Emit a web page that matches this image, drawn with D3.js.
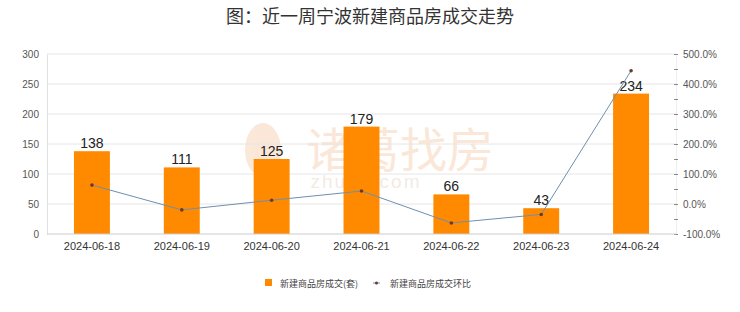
<!DOCTYPE html>
<html>
<head>
<meta charset="utf-8">
<script src="https://cdn.jsdelivr.net/npm/d3@7"></script>
<style>
  html, body { margin: 0; padding: 0; background: #fff; }
  svg { display: block; font-family: "Liberation Sans", Arial, sans-serif; }
  .cjk { font-family: "Noto Sans CJK SC", sans-serif; }
</style>
</head>
<body>
<svg id="chart" width="740" height="312"></svg>
<script>
const dates = ["2024-06-18", "2024-06-19", "2024-06-20", "2024-06-21", "2024-06-22", "2024-06-23", "2024-06-24"];
const deals = [138, 111, 125, 179, 66, 43, 234];
const momPct = [63, -19.6, 12.6, 43.2, -63.1, -34.8, 444.2];
const leftTicks = [0, 50, 100, 150, 200, 250, 300];
const rightTicks = [-100, 0, 100, 200, 300, 400, 500];

const margin = { top: 54, left: 47 };
const plotW = 676 - margin.left;
const plotH = 234 - margin.top;

const svg = d3.select("#chart");

// title
svg.append("text")
  .attr("class", "cjk")
  .attr("x", 370)
  .attr("y", 23)
  .attr("text-anchor", "middle")
  .attr("font-size", 18)
  .attr("fill", "#333")
  .text("图：近一周宁波新建商品房成交走势");

// faint watermark behind the plot
const wm = svg.append("g").attr("opacity", 0.33);
wm.append("ellipse")
  .attr("cx", 263).attr("cy", 150).attr("rx", 18).attr("ry", 27)
  .attr("fill", "#f0b98a");
wm.append("text")
  .attr("class", "cjk")
  .attr("x", 400)
  .attr("y", 167)
  .attr("text-anchor", "middle")
  .attr("font-size", 47)
  .attr("fill", "#f0b98a")
  .text("诸葛找房");
wm.append("text")
  .attr("x", 366)
  .attr("y", 188)
  .attr("text-anchor", "middle")
  .attr("font-size", 19)
  .attr("letter-spacing", 2)
  .attr("fill", "#d9c2b0")
  .text("zhuge.com");

const g = svg.append("g").attr("transform", `translate(${margin.left},${margin.top})`);

const x = d3.scaleBand().domain(dates).range([0, plotW]).paddingInner(0.6).paddingOuter(0.3);
const yL = d3.scaleLinear().domain([0, 300]).range([plotH, 0]);
const yR = d3.scaleLinear().domain([-100, 500]).range([plotH, 0]);

// gridlines
g.append("g")
  .selectAll("line")
  .data(leftTicks.filter((d) => d > 0))
  .join("line")
  .attr("x1", 0)
  .attr("x2", plotW)
  .attr("y1", (d) => yL(d))
  .attr("y2", (d) => yL(d))
  .attr("stroke", "#e6e6e6");

// left axis
const leftAxis = g.append("g")
  .call(d3.axisLeft(yL).tickValues(leftTicks).tickSize(0).tickPadding(8));
leftAxis.select(".domain").attr("stroke", "#e0e0e0");
leftAxis.selectAll("text").attr("font-size", 10).attr("fill", "#555");

// right axis, small marks every 50%
const rightAxis = g.append("g")
  .attr("transform", `translate(${plotW},0)`)
  .call(d3.axisRight(yR).tickValues(d3.range(-100, 501, 50)).tickSize(0).tickFormat(""));
rightAxis.select(".domain").attr("stroke", "#eee");
rightAxis.selectAll(".tick line").remove();
rightAxis.selectAll(".tick")
  .append("line")
  .attr("x1", -2).attr("x2", 2)
  .attr("stroke", "#888");
g.append("g")
  .attr("transform", `translate(${plotW},0)`)
  .selectAll("text")
  .data(rightTicks)
  .join("text")
  .attr("x", 7)
  .attr("y", (d) => yR(d))
  .attr("dy", "0.35em")
  .attr("font-size", 10)
  .attr("fill", "#555")
  .text((d) => d.toFixed(1) + "%");

// bars
g.append("g")
  .selectAll("rect")
  .data(deals)
  .join("rect")
  .attr("x", (d, i) => x(dates[i]))
  .attr("y", (d) => yL(d))
  .attr("width", x.bandwidth())
  .attr("height", (d) => plotH - yL(d))
  .attr("fill", "#ff8a00");

// baseline
g.append("line")
  .attr("x1", 0).attr("x2", plotW)
  .attr("y1", plotH).attr("y2", plotH)
  .attr("stroke", "#ccc");

// value labels
g.append("g")
  .selectAll("text")
  .data(deals)
  .join("text")
  .attr("x", (d, i) => x(dates[i]) + x.bandwidth() / 2)
  .attr("y", (d) => yL(d) - 3)
  .attr("text-anchor", "middle")
  .attr("font-size", 14)
  .attr("fill", "#222")
  .text((d) => d);

// x labels
g.append("g")
  .selectAll("text")
  .data(dates)
  .join("text")
  .attr("x", (d) => x(d) + x.bandwidth() / 2)
  .attr("y", plotH + 16)
  .attr("text-anchor", "middle")
  .attr("font-size", 11)
  .attr("fill", "#333")
  .text((d) => d);

// month-on-month line
const line = d3.line()
  .x((d, i) => x(dates[i]) + x.bandwidth() / 2)
  .y((d) => yR(d));
g.append("path")
  .datum(momPct)
  .attr("d", line)
  .attr("fill", "none")
  .attr("stroke", "#6f8fb0")
  .attr("stroke-width", 1);
g.append("g")
  .selectAll("circle")
  .data(momPct)
  .join("circle")
  .attr("cx", (d, i) => x(dates[i]) + x.bandwidth() / 2)
  .attr("cy", (d) => yR(d))
  .attr("r", 1.8)
  .attr("fill", "#6b3a2a");

// legend
const lg = svg.append("g").attr("transform", "translate(0,283)");
lg.append("rect").attr("x", 265).attr("y", -4).attr("width", 7).attr("height", 7).attr("fill", "#ff8a00");
lg.append("text").attr("class", "cjk").attr("x", 280).attr("y", 3.5)
  .attr("font-size", 9).attr("fill", "#444").text("新建商品房成交(套)");
lg.append("line").attr("x1", 373).attr("x2", 380).attr("y1", 0).attr("y2", 0).attr("stroke", "#6f8fb0");
lg.append("circle").attr("cx", 376.5).attr("cy", 0).attr("r", 1.5).attr("fill", "#6b3a2a");
lg.append("text").attr("class", "cjk").attr("x", 390).attr("y", 3.5)
  .attr("font-size", 9).attr("fill", "#444").text("新建商品房成交环比");
</script>
</body>
</html>
